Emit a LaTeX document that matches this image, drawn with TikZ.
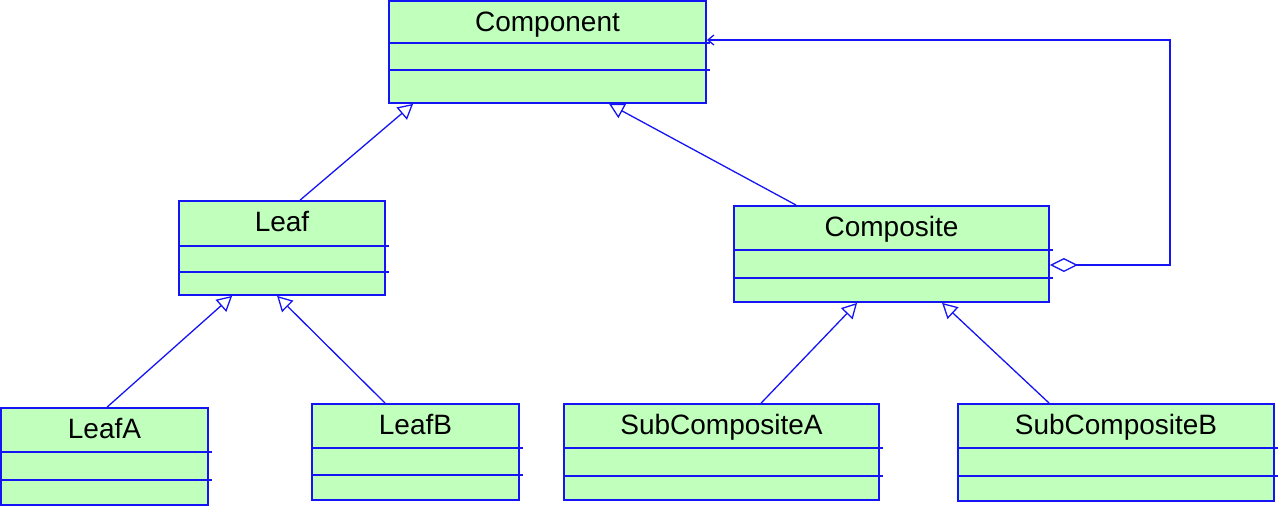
\documentclass[tikz,border=0pt]{standalone}
\usepackage{fontspec}
\setmainfont{Liberation Sans}
\usetikzlibrary{arrows.meta,calc,fit}
\definecolor{umlblue}{RGB}{20,20,245}
\definecolor{umlfill}{RGB}{192,255,188}
\tikzset{
  clsbox/.style={draw=umlblue, fill=umlfill, line width=1.8pt, inner sep=0pt},
  divline/.style={draw=umlblue, line width=1.6pt},
  clstext/.style={font=\fontsize{28}{32}\selectfont, text=black, inner sep=0pt},
  gen/.style={draw=umlblue, line width=1.3pt, -{Triangle[open, length=15pt, width=16pt, line width=1.3pt]}},
  assoc/.style={draw=umlblue, line width=1.6pt, {Diamond[open, length=28pt, width=14pt, line width=1.3pt]}-{Straight Barb[length=6pt, width=10pt, line width=1.3pt]}}
}
\newcommand{\umlclass}[8]{%
  \node[clsbox, fit={(#2,#3)(#4,#5)}] (#1) {};
  \draw[divline] (#1.west |- 0,#6) -- ([xshift=3pt]#1.east |- 0,#6);
  \draw[divline] (#1.west |- 0,#7) -- ([xshift=3pt]#1.east |- 0,#7);
  \node[clstext, anchor=base] (#1-t) at ($(#1.north)+(0,31)$) {#8};
}
\begin{document}
\begin{tikzpicture}[x=1pt, y=-1pt]
\useasboundingbox (0,0) rectangle (1280,509);
\umlclass{comp}{389}{1}{706}{103}{43}{70}{Component}
\umlclass{leaf}{179}{201}{385}{295}{246}{272}{Leaf}
\umlclass{compo}{734}{206}{1049}{302}{250}{278}{Composite}
\umlclass{leafa}{1}{408}{208}{505}{452}{480}{LeafA}
\umlclass{leafb}{312}{404}{519}{500}{448}{475}{LeafB}
\umlclass{suba}{564}{404}{879}{500}{448}{476}{SubCompositeA}
\umlclass{subb}{958}{404}{1274}{501}{448}{476}{SubCompositeB}
% generalizations
\draw[gen] ($(leaf.north west)+(122,0)$) -- ($(comp.south west)+(25,0)$);
\draw[gen] ($(compo.north west)+(63,0)$) -- ($(comp.south west)+(221,0)$);
\draw[gen] ($(leafa.north west)+(107,0)$) -- ($(leaf.south west)+(54,0)$);
\draw[gen] ($(leafb.north west)+(74,0)$) -- ($(leaf.south west)+(99,0)$);
\draw[gen] ($(suba.north west)+(198,0)$) -- ($(compo.south west)+(124,0)$);
\draw[gen] ($(subb.north west)+(92,0)$) -- ($(compo.south west)+(209,0)$);
% aggregation
\draw[assoc] (compo.east |- 0,265) -- (1170,265) -- (1170,40) -- (comp.east |- 0,40);
\end{tikzpicture}
\end{document}
